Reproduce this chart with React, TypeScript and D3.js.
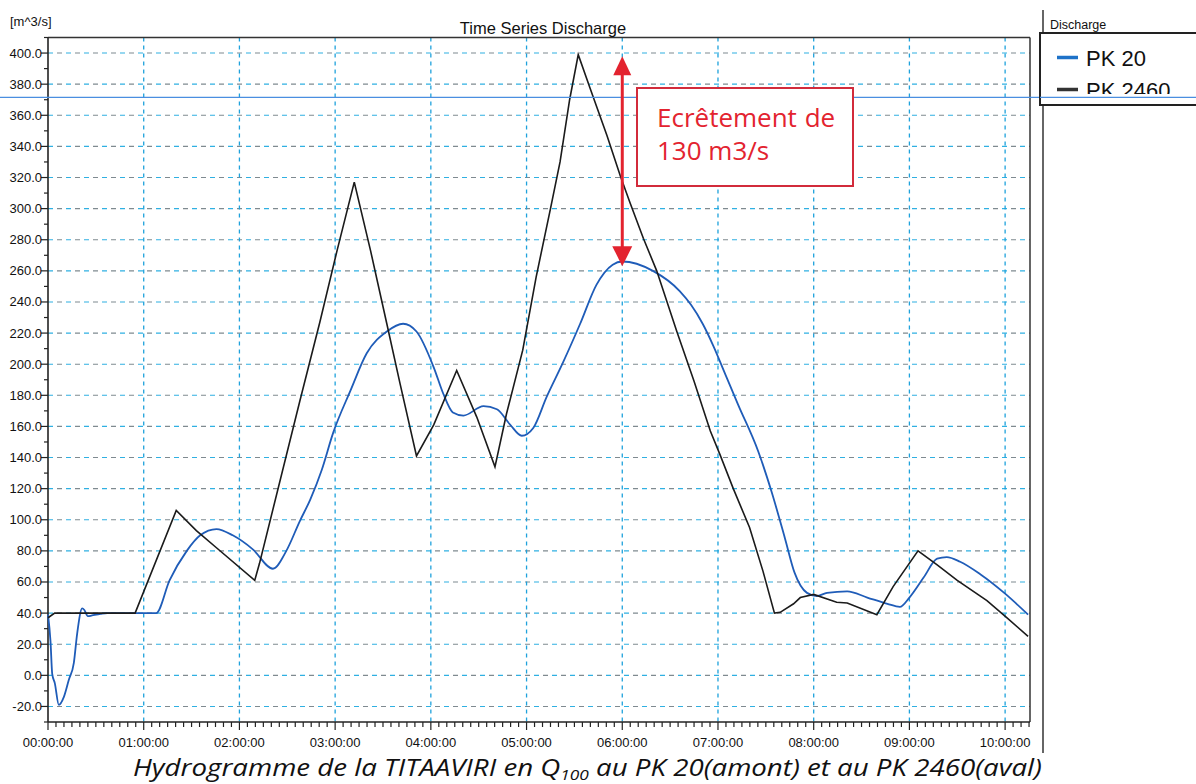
import React from 'react';
import * as d3 from 'd3';

// time in hours from 00:00:00, discharge in m3/s
const pk20Time = [0, 0.026, 0.044, 0.071, 0.113, 0.165, 0.217, 0.27, 0.305, 0.357, 0.38, 0.416, 0.46, 0.55, 0.62,
  1.13, 1.27, 1.45, 1.59, 1.76, 1.93, 2.14, 2.35, 2.49, 2.63, 2.74, 2.86, 2.98, 3.16, 3.33, 3.54, 3.71, 3.85,
  4.03, 4.13, 4.23, 4.34, 4.55, 4.69, 4.83, 4.95, 5.07, 5.21, 5.38, 5.56, 5.73, 5.9, 6.0, 6.32, 6.6, 6.72, 6.84,
  6.95, 7.08, 7.21, 7.42, 7.56, 7.7, 7.8, 7.93, 8.03, 8.14, 8.35, 8.56, 8.77, 8.9, 9.0, 9.15, 9.29, 9.39, 9.53,
  9.74, 10.0, 10.24];
const pk20Value = [39, 22, 1, -5, -19, -14, -3, 8, 27, 43, 42, 38, 38.5, 39.5, 40,
  40, 61, 80, 90, 94, 90, 81, 68.5, 80, 99, 113, 132, 156, 183, 207, 221, 226, 221,
  198, 181, 169, 167, 173, 171, 161, 154, 159, 179, 201, 226, 251, 264, 266, 260, 247, 238, 226,
  212, 193, 174, 144, 118, 88, 66, 53, 51, 53, 54, 50, 46, 44, 50, 63, 75, 76, 73,
  65, 52.5, 39];

const pk2460Time = [0, 0.07, 0.91, 1.34, 1.55, 1.76, 2.16, 2.21, 2.63, 2.84, 3.02, 3.2,
  3.37, 3.54, 3.68, 3.85, 4.03, 4.27, 4.48, 4.67, 4.79, 4.96, 5.1, 5.25, 5.35, 5.45, 5.54, 5.66, 5.84,
  5.98, 6.08, 6.22, 6.36, 6.57, 6.75, 6.92, 7.02, 7.16, 7.33, 7.47, 7.59, 7.65, 7.79, 7.86, 8.0, 8.24,
  8.35, 8.66, 8.83, 9.09, 9.29, 9.5, 9.81, 10.02, 10.24];
const pk2460Value = [37, 40, 40, 106, 93, 82, 61, 72, 176, 227, 273, 317,
  273, 226, 187, 141, 161, 196, 166, 134, 168, 209, 256, 300, 330, 370, 399, 378, 347,
  321, 304, 281, 260, 221, 189, 157, 142, 120, 95, 67, 40, 40.5, 46, 50, 52, 47,
  46.5, 39, 57, 80, 71, 61, 48, 37, 25];

const hourLabels = ['00:00:00', '01:00:00', '02:00:00', '03:00:00', '04:00:00', '05:00:00',
  '06:00:00', '07:00:00', '08:00:00', '09:00:00', '10:00:00'];
const yTicks = d3.range(-20, 401, 20);
const yMinor = d3.range(-30, 411, 10);
const xMinor = d3.range(0, 10.26, 1 / 12);

const arrowTime = 6.0;
const arrowFrom = 398;
const arrowTo = 263;
const artifactLevel = 371.5;

const W = 1196, H = 784;

export default function App() {
  const x = d3.scaleLinear().domain([0, 10.26]).range([48, 1030]);
  const y = d3.scaleLinear().domain([-30, 410]).range([722, 37.5]);
  const [x0, x1] = x.range();
  const [yb, yt] = y.range();

  const smooth = d3.line<number>().x((_, i) => x(pk20Time[i])).y(d => y(d)).curve(d3.curveMonotoneX);
  const sharp = d3.line<number>().x((_, i) => x(pk2460Time[i])).y(d => y(d));

  const ax = x(arrowTime);
  const aTop = y(arrowFrom);
  const aBot = y(arrowTo);
  const red = '#e3232f';

  return (
    <svg width={W} height={H} style={{ position: 'absolute', left: 0, top: 0, background: '#fff' }}
      fontFamily="'Liberation Sans', Arial, sans-serif">
      <defs>
        <clipPath id="legclip"><rect x={1040} y={33} width={160} height={61} /></clipPath>
      </defs>

      {/* horizontal grid: cyan and grey dashes alternating */}
      {yTicks.map(t => (
        <g key={'h' + t}>
          <line x1={x0} x2={x1} y1={y(t)} y2={y(t)} stroke="#2fb0e2" strokeWidth={1.1} strokeDasharray="5 13" />
          <line x1={x0} x2={x1} y1={y(t)} y2={y(t)} stroke="#7f8a90" strokeWidth={1.1} strokeDasharray="5 13" strokeDashoffset={-9} />
        </g>
      ))}
      {/* vertical grid */}
      {d3.range(1, 11).map(h => (
        <line key={'v' + h} x1={x(h)} x2={x(h)} y1={yt} y2={yb} stroke="#1fa2dc" strokeWidth={1.3} strokeDasharray="4 4" />
      ))}

      {/* frame */}
      <line x1={x0} x2={x1} y1={yt} y2={yt} stroke="#333" strokeWidth={1.5} />
      <line x1={x1} x2={x1} y1={yt} y2={yb} stroke="#333" strokeWidth={1.5} />

      {/* y axis */}
      <line x1={x0} x2={x0} y1={yt} y2={yb} stroke="#222" strokeWidth={1.6} />
      {yMinor.map(t => (
        <line key={'ym' + t} x1={x0 - (t % 20 === 0 ? 7 : 4)} x2={x0} y1={y(t)} y2={y(t)} stroke="#222" strokeWidth={1.2} />
      ))}
      {yTicks.map(t => (
        <text key={'yl' + t} x={x0 - 6} y={y(t) + 4.5} textAnchor="end" fontSize={13} fill="#111">{t.toFixed(1)}</text>
      ))}
      <text x={10} y={26} fontSize={13} fill="#111">[m^3/s]</text>

      {/* x axis */}
      <line x1={x0} x2={x1} y1={yb} y2={yb} stroke="#222" strokeWidth={1.6} />
      {xMinor.map((m, i) => (
        <line key={'xm' + i} x1={x(m)} x2={x(m)} y1={yb} y2={yb + (i % 12 === 0 ? 8 : 5)} stroke="#222" strokeWidth={1.2} />
      ))}
      {hourLabels.map((l, i) => (
        <text key={l} x={x(i)} y={yb + 25} textAnchor="middle" fontSize={13} fill="#111">{l}</text>
      ))}

      <text x={543} y={34} textAnchor="middle" fontSize={16.5} fill="#111">Time Series Discharge</text>

      {/* series */}
      <path d={smooth(pk20Value) || ''} fill="none" stroke="#1f5cb8" strokeWidth={1.8} />
      <path d={sharp(pk2460Value) || ''} fill="none" stroke="#1b1b1b" strokeWidth={1.6} />

      {/* scan artifact line */}
      <line x1={0} x2={W} y1={y(artifactLevel)} y2={y(artifactLevel)} stroke="#4a8ee0" strokeWidth={1.1} />

      {/* annotation */}
      <line x1={ax} x2={ax} y1={aTop + 15} y2={aBot - 15} stroke={red} strokeWidth={3} />
      <path d={`M${ax},${aTop} L${ax - 9},${aTop + 19} L${ax + 9},${aTop + 19} Z`} fill={red} />
      <path d={`M${ax},${aBot} L${ax - 10},${aBot - 20} L${ax + 10},${aBot - 20} Z`} fill={red} />
      <rect x={637} y={88} width={216} height={98} fill="#fff" stroke="#d22b3b" strokeWidth={2} />
      <text x={657} y={127} fontSize={26} fill={red} fontFamily="'Open Sans', sans-serif" wordSpacing={1}>Ecrêtement de</text>
      <text x={657} y={160} fontSize={26} fill={red} fontFamily="'Open Sans', sans-serif">130 m3/s</text>

      {/* legend panel */}
      <line x1={1043} x2={1043} y1={10} y2={753} stroke="#333" strokeWidth={1.5} />
      <text x={1050} y={29} fontSize={12.5} fill="#111">Discharge</text>
      <rect x={1040} y={33} width={170} height={72} fill="#fff" stroke="#222" strokeWidth={2} />
      <g clipPath="url(#legclip)">
        <line x1={1057} x2={1078} y1={57.5} y2={57.5} stroke="#1e72c8" strokeWidth={3.5} />
        <text x={1086} y={66} fontSize={22} fill="#111">PK 20</text>
        <line x1={1057} x2={1078} y1={89.5} y2={89.5} stroke="#333" strokeWidth={3.5} />
        <text x={1086} y={98} fontSize={22} fill="#111">PK 2460</text>
      </g>
      <line x1={1040} x2={W} y1={y(artifactLevel)} y2={y(artifactLevel)} stroke="#4a8ee0" strokeWidth={1.1} />

      {/* caption */}
      <text x={133} y={776} fontSize={24} fontStyle="italic" fill="#111" fontFamily="'Open Sans', sans-serif"
        textLength={909} lengthAdjust="spacingAndGlyphs">
        Hydrogramme de la TITAAVIRI en Q<tspan fontSize={15} dy={4}>100</tspan><tspan dy={-4}> au PK 20(amont) et au PK 2460(aval)</tspan>
      </text>
    </svg>
  );
}
